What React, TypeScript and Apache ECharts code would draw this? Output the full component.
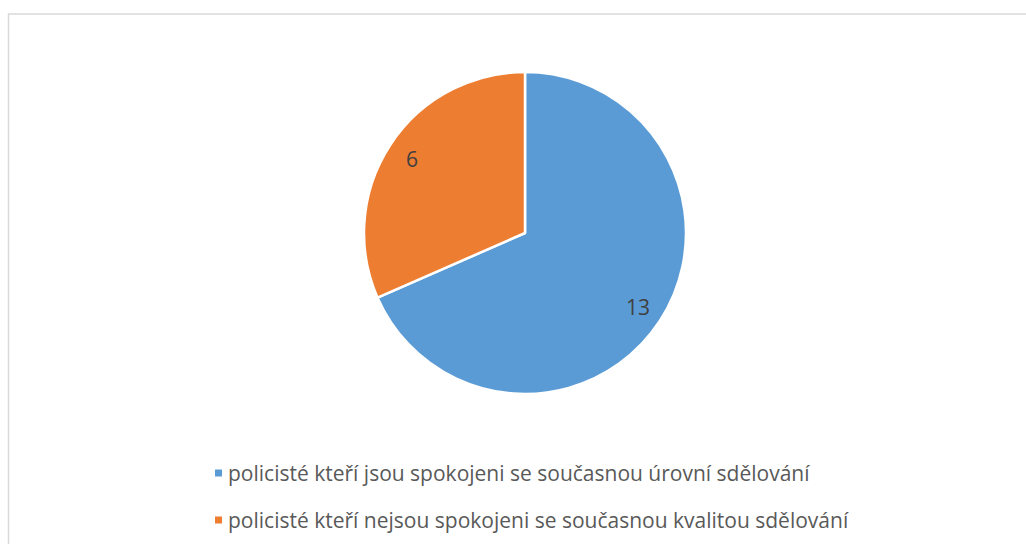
import React, { useEffect, useRef } from "react";
import * as echarts from "echarts";

const categories = [
  "policisté kteří jsou spokojeni se současnou úrovní sdělování",
  "policisté kteří nejsou spokojeni se současnou kvalitou sdělování",
];
const values = [13, 6];
const colors = ["#5B9BD5", "#ED7D31"];

export default function App() {
  const ref = useRef<HTMLDivElement>(null);
  useEffect(() => {
    if (!ref.current) return;
    const chart = echarts.init(ref.current, undefined, { renderer: "svg" });
    const data = categories.map((name, i) => ({
      name,
      value: values[i],
      itemStyle: { color: colors[i] },
    }));
    chart.setOption({
      animation: false,
      backgroundColor: "#ffffff",
      graphic: [
        {
          type: "rect",
          shape: { x: 8.5, y: 14, width: 1100, height: 600 },
          style: { fill: "none", stroke: "#d9d9d9", lineWidth: 1.5 },
          silent: true,
        },
      ],
      legend: {
        orient: "vertical",
        left: 213,
        top: 461,
        padding: 0,
        itemWidth: 9,
        itemHeight: 9,
        itemGap: 23,
        icon: "rect",
        data: categories,
        textStyle: {
          fontFamily: "Open Sans",
          fontSize: 21,
          color: "#595959",
          lineHeight: 24,
        },
      },
      series: [
        {
          type: "pie",
          center: [525, 233],
          radius: [0, 161],
          startAngle: 90,
          clockwise: true,
          label: { show: false },
          labelLine: { show: false },
          itemStyle: { borderColor: "#ffffff", borderWidth: 2.5 },
          emphasis: { disabled: true },
          data,
        },
        {
          type: "pie",
          center: [525, 233],
          radius: [103, 161],
          startAngle: 90,
          clockwise: true,
          silent: true,
          label: {
            show: true,
            position: "inside",
            formatter: "{c}",
            fontFamily: "Open Sans",
            fontSize: 21,
            color: "#404040",
          },
          labelLine: { show: false },
          itemStyle: { color: "rgba(0,0,0,0)", borderWidth: 0 },
          emphasis: { disabled: true },
          data: categories.map((name, i) => ({ name, value: values[i] })),
        },
      ],
    });
    return () => chart.dispose();
  }, []);
  return (
    <div
      ref={ref}
      style={{ position: "absolute", left: 0, top: 0, width: 1026, height: 544 }}
    />
  );
}
